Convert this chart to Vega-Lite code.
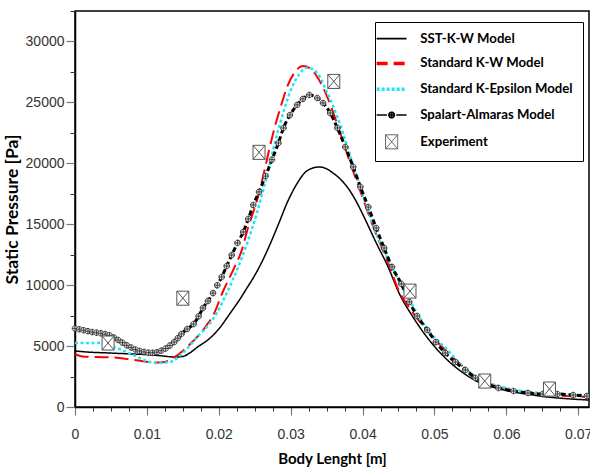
{
  "$schema": "https://vega.github.io/schema/vega-lite/v6.json",
  "width": 514,
  "height": 396,
  "autosize": {"type": "none"},
  "padding": {"left": 75, "top": 11, "right": 1, "bottom": 66},
  "background": "white",
  "config": {
    "view": {"stroke": "black", "strokeWidth": 1.5},
    "axis": {"grid": false, "domainColor": "black", "domainWidth": 1.5}
  },
  "datasets": {
    "models": [
      {"series": "SST-K-W Model", "x": 0, "y": 4600},
      {"series": "SST-K-W Model", "x": 0.002, "y": 4500},
      {"series": "SST-K-W Model", "x": 0.004, "y": 4450},
      {"series": "SST-K-W Model", "x": 0.006, "y": 4400},
      {"series": "SST-K-W Model", "x": 0.008, "y": 4350},
      {"series": "SST-K-W Model", "x": 0.01, "y": 4300},
      {"series": "SST-K-W Model", "x": 0.012, "y": 4200},
      {"series": "SST-K-W Model", "x": 0.014, "y": 4100},
      {"series": "SST-K-W Model", "x": 0.015, "y": 4150},
      {"series": "SST-K-W Model", "x": 0.016, "y": 4450},
      {"series": "SST-K-W Model", "x": 0.017, "y": 4900},
      {"series": "SST-K-W Model", "x": 0.0188, "y": 5660},
      {"series": "SST-K-W Model", "x": 0.02, "y": 6400},
      {"series": "SST-K-W Model", "x": 0.0216, "y": 7710},
      {"series": "SST-K-W Model", "x": 0.023, "y": 8900},
      {"series": "SST-K-W Model", "x": 0.0239, "y": 9750},
      {"series": "SST-K-W Model", "x": 0.025, "y": 10800},
      {"series": "SST-K-W Model", "x": 0.0262, "y": 12150},
      {"series": "SST-K-W Model", "x": 0.0272, "y": 13450},
      {"series": "SST-K-W Model", "x": 0.0283, "y": 15000},
      {"series": "SST-K-W Model", "x": 0.0295, "y": 16750},
      {"series": "SST-K-W Model", "x": 0.0309, "y": 18350},
      {"series": "SST-K-W Model", "x": 0.032, "y": 19250},
      {"series": "SST-K-W Model", "x": 0.033, "y": 19600},
      {"series": "SST-K-W Model", "x": 0.034, "y": 19700},
      {"series": "SST-K-W Model", "x": 0.0348, "y": 19600},
      {"series": "SST-K-W Model", "x": 0.0359, "y": 19200},
      {"series": "SST-K-W Model", "x": 0.037, "y": 18650},
      {"series": "SST-K-W Model", "x": 0.038, "y": 17950},
      {"series": "SST-K-W Model", "x": 0.039, "y": 17000},
      {"series": "SST-K-W Model", "x": 0.04, "y": 15850},
      {"series": "SST-K-W Model", "x": 0.041, "y": 14600},
      {"series": "SST-K-W Model", "x": 0.042, "y": 13350},
      {"series": "SST-K-W Model", "x": 0.0434, "y": 11700},
      {"series": "SST-K-W Model", "x": 0.0452, "y": 9200},
      {"series": "SST-K-W Model", "x": 0.047, "y": 7400},
      {"series": "SST-K-W Model", "x": 0.049, "y": 5700},
      {"series": "SST-K-W Model", "x": 0.0518, "y": 3860},
      {"series": "SST-K-W Model", "x": 0.054, "y": 2800},
      {"series": "SST-K-W Model", "x": 0.0564, "y": 1970},
      {"series": "SST-K-W Model", "x": 0.059, "y": 1500},
      {"series": "SST-K-W Model", "x": 0.061, "y": 1230},
      {"series": "SST-K-W Model", "x": 0.0635, "y": 1000},
      {"series": "SST-K-W Model", "x": 0.0657, "y": 820},
      {"series": "SST-K-W Model", "x": 0.068, "y": 700},
      {"series": "SST-K-W Model", "x": 0.0715, "y": 570},

      {"series": "Standard K-W Model", "x": 0, "y": 4350},
      {"series": "Standard K-W Model", "x": 0.001, "y": 4150},
      {"series": "Standard K-W Model", "x": 0.003, "y": 4100},
      {"series": "Standard K-W Model", "x": 0.005, "y": 4080},
      {"series": "Standard K-W Model", "x": 0.007, "y": 3950},
      {"series": "Standard K-W Model", "x": 0.009, "y": 3800},
      {"series": "Standard K-W Model", "x": 0.011, "y": 3650},
      {"series": "Standard K-W Model", "x": 0.0125, "y": 3700},
      {"series": "Standard K-W Model", "x": 0.0136, "y": 4000},
      {"series": "Standard K-W Model", "x": 0.015, "y": 4600},
      {"series": "Standard K-W Model", "x": 0.0164, "y": 5400},
      {"series": "Standard K-W Model", "x": 0.0174, "y": 6000},
      {"series": "Standard K-W Model", "x": 0.0183, "y": 6700},
      {"series": "Standard K-W Model", "x": 0.0192, "y": 7500},
      {"series": "Standard K-W Model", "x": 0.0206, "y": 9500},
      {"series": "Standard K-W Model", "x": 0.022, "y": 11240},
      {"series": "Standard K-W Model", "x": 0.0232, "y": 12880},
      {"series": "Standard K-W Model", "x": 0.0241, "y": 14770},
      {"series": "Standard K-W Model", "x": 0.0252, "y": 16740},
      {"series": "Standard K-W Model", "x": 0.0262, "y": 19000},
      {"series": "Standard K-W Model", "x": 0.027, "y": 21100},
      {"series": "Standard K-W Model", "x": 0.0278, "y": 23000},
      {"series": "Standard K-W Model", "x": 0.0287, "y": 24800},
      {"series": "Standard K-W Model", "x": 0.0295, "y": 26260},
      {"series": "Standard K-W Model", "x": 0.0306, "y": 27500},
      {"series": "Standard K-W Model", "x": 0.0317, "y": 27990},
      {"series": "Standard K-W Model", "x": 0.0327, "y": 27800},
      {"series": "Standard K-W Model", "x": 0.0337, "y": 27080},
      {"series": "Standard K-W Model", "x": 0.0351, "y": 25440},
      {"series": "Standard K-W Model", "x": 0.0366, "y": 23000},
      {"series": "Standard K-W Model", "x": 0.038, "y": 20520},
      {"series": "Standard K-W Model", "x": 0.0397, "y": 17700},
      {"series": "Standard K-W Model", "x": 0.0415, "y": 14770},
      {"series": "Standard K-W Model", "x": 0.0434, "y": 12060},
      {"series": "Standard K-W Model", "x": 0.0452, "y": 9350},
      {"series": "Standard K-W Model", "x": 0.0468, "y": 7900},
      {"series": "Standard K-W Model", "x": 0.0484, "y": 6700},
      {"series": "Standard K-W Model", "x": 0.05, "y": 5600},
      {"series": "Standard K-W Model", "x": 0.0518, "y": 4500},
      {"series": "Standard K-W Model", "x": 0.054, "y": 3300},
      {"series": "Standard K-W Model", "x": 0.0564, "y": 2200},
      {"series": "Standard K-W Model", "x": 0.059, "y": 1650},
      {"series": "Standard K-W Model", "x": 0.0633, "y": 1150},
      {"series": "Standard K-W Model", "x": 0.067, "y": 950},
      {"series": "Standard K-W Model", "x": 0.0715, "y": 820},

      {"series": "Standard K-Epsilon Model", "x": 0, "y": 5250},
      {"series": "Standard K-Epsilon Model", "x": 0.0035, "y": 5250},
      {"series": "Standard K-Epsilon Model", "x": 0.0058, "y": 4840},
      {"series": "Standard K-Epsilon Model", "x": 0.0081, "y": 4270},
      {"series": "Standard K-Epsilon Model", "x": 0.0104, "y": 3690},
      {"series": "Standard K-Epsilon Model", "x": 0.0114, "y": 3610},
      {"series": "Standard K-Epsilon Model", "x": 0.0132, "y": 3690},
      {"series": "Standard K-Epsilon Model", "x": 0.015, "y": 4430},
      {"series": "Standard K-Epsilon Model", "x": 0.017, "y": 5750},
      {"series": "Standard K-Epsilon Model", "x": 0.0188, "y": 6900},
      {"series": "Standard K-Epsilon Model", "x": 0.0197, "y": 7700},
      {"series": "Standard K-Epsilon Model", "x": 0.0211, "y": 9350},
      {"series": "Standard K-Epsilon Model", "x": 0.0227, "y": 11490},
      {"series": "Standard K-Epsilon Model", "x": 0.0241, "y": 13700},
      {"series": "Standard K-Epsilon Model", "x": 0.0253, "y": 15920},
      {"series": "Standard K-Epsilon Model", "x": 0.0264, "y": 18300},
      {"series": "Standard K-Epsilon Model", "x": 0.0284, "y": 23000},
      {"series": "Standard K-Epsilon Model", "x": 0.0302, "y": 26260},
      {"series": "Standard K-Epsilon Model", "x": 0.0313, "y": 27400},
      {"series": "Standard K-Epsilon Model", "x": 0.0323, "y": 27850},
      {"series": "Standard K-Epsilon Model", "x": 0.0337, "y": 27410},
      {"series": "Standard K-Epsilon Model", "x": 0.0351, "y": 25770},
      {"series": "Standard K-Epsilon Model", "x": 0.0365, "y": 23800},
      {"series": "Standard K-Epsilon Model", "x": 0.0379, "y": 21340},
      {"series": "Standard K-Epsilon Model", "x": 0.0392, "y": 18880},
      {"series": "Standard K-Epsilon Model", "x": 0.0406, "y": 16410},
      {"series": "Standard K-Epsilon Model", "x": 0.0417, "y": 14530},
      {"series": "Standard K-Epsilon Model", "x": 0.043, "y": 12800},
      {"series": "Standard K-Epsilon Model", "x": 0.0443, "y": 11240},
      {"series": "Standard K-Epsilon Model", "x": 0.0466, "y": 8700},
      {"series": "Standard K-Epsilon Model", "x": 0.049, "y": 6400},
      {"series": "Standard K-Epsilon Model", "x": 0.0518, "y": 4680},
      {"series": "Standard K-Epsilon Model", "x": 0.054, "y": 3300},
      {"series": "Standard K-Epsilon Model", "x": 0.0564, "y": 2220},
      {"series": "Standard K-Epsilon Model", "x": 0.059, "y": 1700},
      {"series": "Standard K-Epsilon Model", "x": 0.0633, "y": 1230},
      {"series": "Standard K-Epsilon Model", "x": 0.067, "y": 1080},
      {"series": "Standard K-Epsilon Model", "x": 0.0715, "y": 980},

      {"series": "Spalart-Almaras Model", "x": 0, "y": 6450},
      {"series": "Spalart-Almaras Model", "x": 0.0006, "y": 6380},
      {"series": "Spalart-Almaras Model", "x": 0.0012, "y": 6300},
      {"series": "Spalart-Almaras Model", "x": 0.0018, "y": 6220},
      {"series": "Spalart-Almaras Model", "x": 0.0024, "y": 6150},
      {"series": "Spalart-Almaras Model", "x": 0.003, "y": 6100},
      {"series": "Spalart-Almaras Model", "x": 0.0036, "y": 6050},
      {"series": "Spalart-Almaras Model", "x": 0.0042, "y": 5980},
      {"series": "Spalart-Almaras Model", "x": 0.0048, "y": 5880},
      {"series": "Spalart-Almaras Model", "x": 0.0054, "y": 5700},
      {"series": "Spalart-Almaras Model", "x": 0.006, "y": 5500},
      {"series": "Spalart-Almaras Model", "x": 0.0066, "y": 5280},
      {"series": "Spalart-Almaras Model", "x": 0.0072, "y": 5060},
      {"series": "Spalart-Almaras Model", "x": 0.0078, "y": 4880},
      {"series": "Spalart-Almaras Model", "x": 0.0084, "y": 4720},
      {"series": "Spalart-Almaras Model", "x": 0.009, "y": 4600},
      {"series": "Spalart-Almaras Model", "x": 0.0096, "y": 4520},
      {"series": "Spalart-Almaras Model", "x": 0.0102, "y": 4460},
      {"series": "Spalart-Almaras Model", "x": 0.0108, "y": 4450},
      {"series": "Spalart-Almaras Model", "x": 0.0114, "y": 4500},
      {"series": "Spalart-Almaras Model", "x": 0.012, "y": 4620},
      {"series": "Spalart-Almaras Model", "x": 0.0126, "y": 4800},
      {"series": "Spalart-Almaras Model", "x": 0.0132, "y": 5050},
      {"series": "Spalart-Almaras Model", "x": 0.0138, "y": 5330},
      {"series": "Spalart-Almaras Model", "x": 0.0143, "y": 5650},
      {"series": "Spalart-Almaras Model", "x": 0.0148, "y": 5990},
      {"series": "Spalart-Almaras Model", "x": 0.0156, "y": 6400},
      {"series": "Spalart-Almaras Model", "x": 0.0165, "y": 6810},
      {"series": "Spalart-Almaras Model", "x": 0.0172, "y": 7450},
      {"series": "Spalart-Almaras Model", "x": 0.0178, "y": 8120},
      {"series": "Spalart-Almaras Model", "x": 0.0185, "y": 8700},
      {"series": "Spalart-Almaras Model", "x": 0.0192, "y": 9350},
      {"series": "Spalart-Almaras Model", "x": 0.0198, "y": 10000},
      {"series": "Spalart-Almaras Model", "x": 0.0204, "y": 10670},
      {"series": "Spalart-Almaras Model", "x": 0.0211, "y": 11570},
      {"series": "Spalart-Almaras Model", "x": 0.0218, "y": 12470},
      {"series": "Spalart-Almaras Model", "x": 0.0226, "y": 13460},
      {"series": "Spalart-Almaras Model", "x": 0.0234, "y": 14360},
      {"series": "Spalart-Almaras Model", "x": 0.0241, "y": 15430},
      {"series": "Spalart-Almaras Model", "x": 0.0248, "y": 16580},
      {"series": "Spalart-Almaras Model", "x": 0.0256, "y": 17650},
      {"series": "Spalart-Almaras Model", "x": 0.0265, "y": 18950},
      {"series": "Spalart-Almaras Model", "x": 0.0274, "y": 20300},
      {"series": "Spalart-Almaras Model", "x": 0.0283, "y": 21670},
      {"series": "Spalart-Almaras Model", "x": 0.029, "y": 22900},
      {"series": "Spalart-Almaras Model", "x": 0.0299, "y": 23960},
      {"series": "Spalart-Almaras Model", "x": 0.0309, "y": 24790},
      {"series": "Spalart-Almaras Model", "x": 0.0317, "y": 25280},
      {"series": "Spalart-Almaras Model", "x": 0.0326, "y": 25610},
      {"series": "Spalart-Almaras Model", "x": 0.0337, "y": 25360},
      {"series": "Spalart-Almaras Model", "x": 0.0345, "y": 24950},
      {"series": "Spalart-Almaras Model", "x": 0.0355, "y": 24130},
      {"series": "Spalart-Almaras Model", "x": 0.0365, "y": 22900},
      {"series": "Spalart-Almaras Model", "x": 0.0376, "y": 21340},
      {"series": "Spalart-Almaras Model", "x": 0.0387, "y": 19700},
      {"series": "Spalart-Almaras Model", "x": 0.0397, "y": 18060},
      {"series": "Spalart-Almaras Model", "x": 0.0408, "y": 16410},
      {"series": "Spalart-Almaras Model", "x": 0.0419, "y": 14690},
      {"series": "Spalart-Almaras Model", "x": 0.043, "y": 13050},
      {"series": "Spalart-Almaras Model", "x": 0.0441, "y": 11490},
      {"series": "Spalart-Almaras Model", "x": 0.0454, "y": 10100},
      {"series": "Spalart-Almaras Model", "x": 0.0465, "y": 8620},
      {"series": "Spalart-Almaras Model", "x": 0.0476, "y": 7470},
      {"series": "Spalart-Almaras Model", "x": 0.049, "y": 6320},
      {"series": "Spalart-Almaras Model", "x": 0.0502, "y": 5330},
      {"series": "Spalart-Almaras Model", "x": 0.0515, "y": 4430},
      {"series": "Spalart-Almaras Model", "x": 0.0529, "y": 3690},
      {"series": "Spalart-Almaras Model", "x": 0.0543, "y": 3040},
      {"series": "Spalart-Almaras Model", "x": 0.0557, "y": 2380},
      {"series": "Spalart-Almaras Model", "x": 0.0571, "y": 1970},
      {"series": "Spalart-Almaras Model", "x": 0.0589, "y": 1560},
      {"series": "Spalart-Almaras Model", "x": 0.061, "y": 1310},
      {"series": "Spalart-Almaras Model", "x": 0.063, "y": 1150},
      {"series": "Spalart-Almaras Model", "x": 0.0651, "y": 1070},
      {"series": "Spalart-Almaras Model", "x": 0.0671, "y": 1070},
      {"series": "Spalart-Almaras Model", "x": 0.0693, "y": 980},
      {"series": "Spalart-Almaras Model", "x": 0.0712, "y": 900}
    ],
    "exp": [
      {"series": "Experiment", "x": 0.0046, "y": 5250},
      {"series": "Experiment", "x": 0.015, "y": 8930},
      {"series": "Experiment", "x": 0.0256, "y": 20900},
      {"series": "Experiment", "x": 0.036, "y": 26720},
      {"series": "Experiment", "x": 0.0466, "y": 9510},
      {"series": "Experiment", "x": 0.057, "y": 2130},
      {"series": "Experiment", "x": 0.066, "y": 1475}
    ]
  },
  "layer": [
    {
      "data": {"name": "models"},
      "mark": {"type": "line", "interpolate": "monotone"},
      "encoding": {
        "x": {
          "field": "x", "type": "quantitative",
          "scale": {"domain": [0, 0.0715], "nice": false, "zero": false},
          "axis": {
            "orient": "bottom",
            "values": [0, 0.01, 0.02, 0.03, 0.04, 0.05, 0.06, 0.07],
            "format": "~g",
            "title": "Body Lenght [m]",
            "titleFont": "Lato", "titleFontSize": 15, "titleFontWeight": "bold", "titleColor": "black",
            "titlePadding": 10,
            "labelFont": "'Liberation Sans Narrow', 'Liberation Sans', sans-serif", "labelFontSize": 14, "labelColor": "#333",
            "labelPadding": 12,
            "tickSize": 8, "tickColor": "#777", "tickWidth": 1.2,
            "labelFlush": false
          }
        },
        "y": {
          "field": "y", "type": "quantitative",
          "scale": {"domain": [0, 32500], "nice": false},
          "axis": {
            "orient": "left",
            "values": [0, 5000, 10000, 15000, 20000, 25000, 30000],
            "format": "d",
            "title": "Static Pressure [Pa]",
            "titleFont": "Lato", "titleFontSize": 17.5, "titleFontWeight": "bold", "titleColor": "black",
            "titlePadding": 4,
            "labelFont": "'Liberation Sans', sans-serif", "labelFontSize": 14, "labelColor": "#333",
            "labelPadding": 2,
            "tickSize": 9, "tickColor": "#777", "tickWidth": 1.2
          }
        },
        "color": {
          "field": "series", "type": "nominal",
          "scale": {
            "domain": ["SST-K-W Model", "Standard K-W Model", "Standard K-Epsilon Model", "Spalart-Almaras Model", "Experiment"],
            "range": ["#000000", "#ff0000", "#1ee6f2", "#000000", "#555555"]
          },
          "legend": {
            "title": null,
            "orient": "none", "legendX": 300, "legendY": 11,
            "fillColor": "white", "strokeColor": "black",
            "padding": 10,
            "symbolSize": 484,
            "labelFont": "Lato", "labelFontSize": 13.2, "labelFontWeight": "bold", "labelColor": "black",
            "labelLimit": 300,
            "labelOffset": 22, "rowPadding": 10.8,
            "encode": {
              "symbols": {
                "update": {
                  "shape": {"signal": "datum.value === 'Experiment' ? 'M-0.55,-0.64L0.55,-0.64L0.55,0.64L-0.55,0.64ZM-0.55,-0.64L0.55,0.64M0.55,-0.64L-0.55,0.64' : datum.value === 'Spalart-Almaras Model' ? 'M-1.36,0L-0.42,0M0.42,0L1.36,0M-0.25,0A0.25,0.25,0,1,0,0.25,0A0.25,0.25,0,1,0,-0.25,0ZM-0.25,0L0.25,0M0,-0.25L0,0.25' : 'M-1.36,0L1.36,0'"},
                  "strokeDash": {"signal": "datum.value === 'Standard K-W Model' ? [11, 6] : datum.value === 'Standard K-Epsilon Model' ? [3, 2] : [1, 0]"},
                  "strokeWidth": {"signal": "datum.value === 'Standard K-W Model' || datum.value === 'Standard K-Epsilon Model' ? 3.5 : datum.value === 'Experiment' ? 1 : 1.6"},
                  "fill": {"value": "transparent"}
                }
              }
            }
          }
        },
        "strokeDash": {
          "field": "series", "type": "nominal",
          "scale": {
            "domain": ["SST-K-W Model", "Standard K-W Model", "Standard K-Epsilon Model", "Spalart-Almaras Model"],
            "range": [[1, 0], [14, 6], [3, 2.5], [5, 3]]
          },
          "legend": null
        },
        "strokeWidth": {
          "field": "series", "type": "nominal",
          "scale": {
            "domain": ["SST-K-W Model", "Standard K-W Model", "Standard K-Epsilon Model", "Spalart-Almaras Model"],
            "range": [1.5, 3, 3.5, 1]
          },
          "legend": null
        }
      }
    },
    {
      "data": {"name": "models"},
      "transform": [{"filter": "datum.series === 'Spalart-Almaras Model'"}],
      "mark": {
        "type": "point",
        "shape": "M-1,0A1,1,0,1,0,1,0A1,1,0,1,0,-1,0ZM-1,0L1,0M0,-1L0,1",
        "size": 32, "filled": false, "fill": "#dddddd", "fillOpacity": 1,
        "stroke": "#222222", "strokeWidth": 0.8, "opacity": 1
      },
      "encoding": {
        "x": {"field": "x", "type": "quantitative", "scale": {"domain": [0, 0.0715], "nice": false, "zero": false}, "axis": null},
        "y": {"field": "y", "type": "quantitative", "scale": {"domain": [0, 32500], "nice": false}, "axis": null}
      }
    },
    {
      "data": {"name": "exp"},
      "mark": {
        "type": "point",
        "shape": "M-1,-1.17L1,-1.17L1,1.17L-1,1.17ZM-1,-1.17L1,1.17M1,-1.17L-1,1.17",
        "size": 144, "filled": false, "fill": "white", "fillOpacity": 1,
        "stroke": "#555555", "strokeWidth": 1, "opacity": 1
      },
      "encoding": {
        "x": {
          "field": "x", "type": "quantitative",
          "scale": {"domain": [0, 0.0715], "nice": false, "zero": false},
          "axis": {
            "orient": "bottom", "title": null, "labels": false, "domain": false,
            "values": [0.0025, 0.005, 0.0075, 0.0125, 0.015, 0.0175, 0.0225, 0.025, 0.0275, 0.0325, 0.035, 0.0375, 0.0425, 0.045, 0.0475, 0.0525, 0.055, 0.0575, 0.0625, 0.065, 0.0675],
            "tickSize": 4, "tickColor": "#333", "tickWidth": 1
          }
        },
        "y": {
          "field": "y", "type": "quantitative",
          "scale": {"domain": [0, 32500], "nice": false},
          "axis": {
            "orient": "left", "title": null, "labels": false, "domain": false,
            "values": [2500, 7500, 12500, 17500, 22500, 27500, 32500],
            "tickSize": 5, "tickColor": "#333", "tickWidth": 1
          }
        }
      }
    }
  ],
  "resolve": {"axis": {"x": "independent", "y": "independent"}}
}
